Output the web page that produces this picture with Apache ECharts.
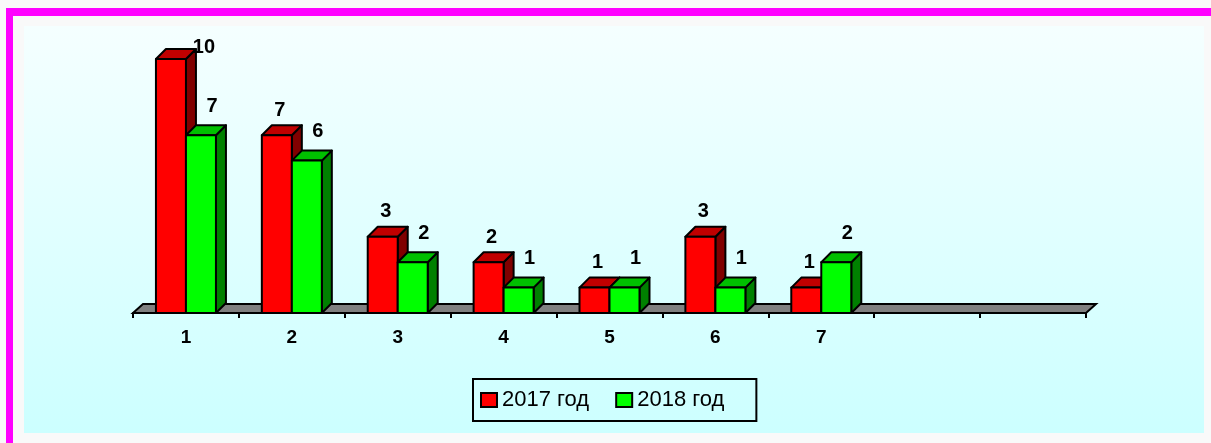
<!DOCTYPE html>
<html>
<head>
<meta charset="utf-8">
<script src="https://cdn.jsdelivr.net/npm/echarts@6/dist/echarts.min.js"></script>
<style>
  html, body { margin: 0; padding: 0; background: #f9f9f9; }
  #chart { width: 1211px; height: 443px; }
</style>
</head>
<body>
<div id="chart"></div>
<script>
const categories = ['1', '2', '3', '4', '5', '6', '7', '', '']
const values2017 = [10, 7, 3, 2, 1, 3, 1]
const values2018 = [7, 6, 2, 1, 1, 1, 2]
const seriesNames = ['2017 год', '2018 год']

const font = '"Liberation Sans", Arial, sans-serif'
// depth of the fake 3d look
const depthX = 10
const depthY = 10
const faces = [
  { front: '#ff0000', top: '#c00000', side: '#800000', labelDx: 3, labelDy: -25 },
  { front: '#00ff00', top: '#00c000', side: '#008000', labelDx: 11, labelDy: -29 }
]

function barItem(seriesInd) {
  return function(params, api) {
    const cat = api.value(0)
    const val = api.value(1)
    const base = api.coord([cat, 0])
    const peak = api.coord([cat, val])
    const bw = Math.round(api.size([1, 0])[0] * 0.285)
    const l = base[0] + (seriesInd === 0 ? -bw : 0)
    const r = l + bw
    const t = peak[1]
    const b = base[1]
    const c = faces[seriesInd]
    const line = { stroke: '#000', lineWidth: 2, lineJoin: 'round' }
    let lx = l + bw / 2 + c.labelDx
    let ly = t + c.labelDy
    // no room above the tallest bar: put the label beside its top
    if (ly < 47) {
      lx = r + depthX + 8
      ly = 47
    }
    return {
      type: 'group',
      children: [
        {
          type: 'polygon',
          shape: { points: [[r, t], [r + depthX, t - depthY], [r + depthX, b - depthY], [r, b]] },
          style: Object.assign({ fill: c.side }, line)
        },
        {
          type: 'polygon',
          shape: { points: [[l, t], [l + depthX, t - depthY], [r + depthX, t - depthY], [r, t]] },
          style: Object.assign({ fill: c.top }, line)
        },
        {
          type: 'rect',
          shape: { x: l, y: t, width: bw, height: b - t },
          style: Object.assign({ fill: c.front }, line)
        },
        {
          type: 'text',
          x: lx,
          y: ly,
          style: {
            text: String(val),
            fill: '#000',
            font: 'bold 20px ' + font,
            align: 'center',
            verticalAlign: 'middle'
          }
        }
      ]
    }
  }
}

function floorItem(params) {
  const cs = params.coordSys
  const l = cs.x
  const r = cs.x + cs.width
  const b = cs.y + cs.height
  return {
    type: 'polygon',
    shape: { points: [[l, b], [l + depthX, b - depthY + 1], [r + depthX, b - depthY + 1], [r, b]] },
    style: { fill: '#808080', stroke: '#000', lineWidth: 2 }
  }
}

const chart = echarts.init(document.getElementById('chart'))
const option = {
  animation: false,
  graphic: [
    { type: 'rect', z: -10, silent: true, shape: { x: 6, y: 8, width: 1205, height: 8 }, style: { fill: '#ff00ff' } },
    { type: 'rect', z: -10, silent: true, shape: { x: 6, y: 8, width: 7, height: 435 }, style: { fill: '#ff00ff' } },
    {
      type: 'rect',
      z: -10,
      silent: true,
      shape: { x: 24, y: 26, width: 1180, height: 407 },
      style: {
        fill: {
          type: 'linear',
          x: 0, y: 0, x2: 0, y2: 1,
          colorStops: [{ offset: 0, color: '#f5ffff' }, { offset: 1, color: '#ccffff' }]
        }
      }
    }
  ],
  grid: { left: 133, right: 125, top: 59, bottom: 130 },
  xAxis: {
    type: 'category',
    data: categories,
    z: 10,
    axisLine: { show: true, lineStyle: { color: '#000', width: 2 } },
    axisTick: { show: true, length: 5, lineStyle: { color: '#000', width: 2 } },
    axisLabel: { color: '#000', fontSize: 19, fontWeight: 'bold', fontFamily: font, margin: 15 },
    splitLine: { show: false }
  },
  yAxis: { type: 'value', min: 0, max: 10, show: false },
  legend: {
    left: 473,
    top: 379,
    selectedMode: false,
    backgroundColor: 'rgba(0,0,0,0)',
    borderColor: '#000',
    borderWidth: 2,
    borderRadius: 0,
    padding: [10, 32, 10, 7],
    itemWidth: 16,
    itemHeight: 14,
    itemGap: 26,
    textStyle: { color: '#000', fontSize: 22, fontFamily: font },
    data: seriesNames.map((n, i) => ({
      name: n,
      icon: 'rect',
      itemStyle: { color: faces[i].front, borderColor: '#000', borderWidth: 2 }
    }))
  },
  series: [
    {
      type: 'custom',
      name: 'floor',
      silent: true,
      clip: false,
      renderItem: floorItem,
      data: [[0, 0]],
      z: 1
    },
    {
      type: 'custom',
      name: seriesNames[0],
      clip: false,
      itemStyle: { color: faces[0].front },
      renderItem: barItem(0),
      data: values2017.map((v, i) => [i, v]),
      z: 3
    },
    {
      type: 'custom',
      name: seriesNames[1],
      clip: false,
      itemStyle: { color: faces[1].front },
      renderItem: barItem(1),
      data: values2018.map((v, i) => [i, v]),
      z: 4
    }
  ]
}
chart.setOption(option)
</script>
</body>
</html>
